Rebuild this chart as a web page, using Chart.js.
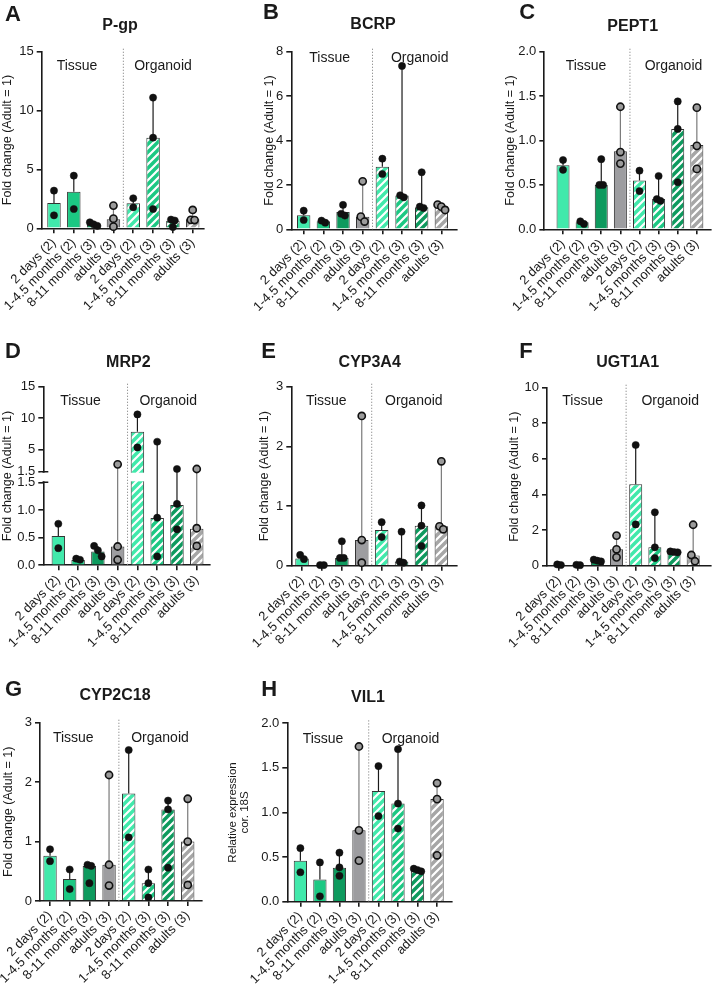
<!DOCTYPE html>
<html><head><meta charset="utf-8">
<script src="https://cdn.jsdelivr.net/npm/chart.js@4.4.1/dist/chart.umd.min.js"></script>
<style>
html,body{margin:0;padding:0;background:#fff;}
body{width:716px;height:988px;position:relative;overflow:hidden;}
canvas{position:absolute;}
</style></head><body>
<script>
// ---------------- DATA ----------------
const CATEGORIES = ['2 days (2)', '1-4.5 months (2)', '8-11 months (3)', 'adults (3)',
                    '2 days (2)', '1-4.5 months (3)', '8-11 months (3)', 'adults (3)'];
const GROUP_LABELS = ['Tissue', 'Organoid'];
const Y_TITLE = 'Fold change (Adult = 1)';
const Y_TITLE_VIL1 = ['Relative expression', 'cor. 18S'];

const PGP_BARS = [2.15, 3.1, 0.3, 0.76, 2.12, 7.7, 0.65, 0.76];
const PGP_POINTS = [[3.2,1.1],[4.47,1.64],[0.51,0.34,0.2],[1.93,0.82,0.14],[2.55,1.78],[11.1,7.7,1.64],[0.74,0.66,0.1],[1.56,0.72,0.7]];

const BCRP_BARS = [0.63, 0.36, 0.78, 0.56, 2.82, 1.52, 0.99, 1.04];
const BCRP_POINTS = [[0.84,0.42],[0.39,0.3],[1.1,0.7,0.62],[2.16,0.57,0.35],[3.18,2.49],[7.36,1.53,1.44],[2.57,1.02,0.96],[1.11,1.02,0.87]];

const PEPT1_BARS = [0.72, 0.08, 0.5, 0.88, 0.55, 0.34, 1.13, 0.95];
const PEPT1_POINTS = [[0.78,0.67],[0.09,0.06],[0.79,0.5,0.5],[1.38,0.87,0.74],[0.66,0.43],[0.6,0.34,0.32],[1.44,1.13,0.53],[1.37,0.94,0.68]];

const MRP2_BARS = [0.53, 0.096, 0.25, 0.34, 7.85, 0.855, 1.09, 0.66];
const MRP2_POINTS = [[0.75,0.31],[0.12,0.1],[0.35,0.27,0.16],[2.67,0.34,0.1],[10.6,5.35],[6.26,0.86,0.16],[1.93,1.11,0.65],[1.93,0.67,0.35]];
const MRP2_TICK_VALUES = [0, 0.5, 1, 1.5, 1.5, 5, 10, 15];
const MRP2_TICK_LABELS = ['0.0', '0.5', '1.0', '1.5', '1.5', '5', '10', '15'];

const CYP3A4_BARS = [0.12, 0.01, 0.13, 0.43, 0.6, 0.07, 0.67, 0.66];
const CYP3A4_POINTS = [[0.18,0.11],[0.01,0.01],[0.41,0.13,0.13],[2.51,0.43,0.05],[0.73,0.48],[0.57,0.07,0.05],[1.01,0.67,0.33],[1.75,0.66,0.61]];

const UGT1A1_BARS = [0.05, 0.04, 0.28, 0.92, 4.57, 1.03, 0.75, 0.58];
const UGT1A1_POINTS = [[0.07,0.04],[0.05,0.03],[0.34,0.28,0.24],[1.69,0.92,0.47],[6.78,2.32],[3.0,1.03,0.43],[0.8,0.77,0.75],[2.3,0.6,0.25]];

const CYP2C18_BARS = [0.76, 0.37, 0.59, 0.61, 1.81, 0.3, 1.54, 1.0];
const CYP2C18_POINTS = [[0.87,0.67],[0.53,0.2],[0.61,0.59,0.3],[2.12,0.61,0.26],[2.54,1.07],[0.53,0.3,0.06],[1.69,1.54,0.56],[1.72,1.0,0.27]];

const VIL1_BARS = [0.46, 0.25, 0.38, 0.8, 1.24, 1.1, 0.34, 1.15];
const VIL1_POINTS = [[0.6,0.33],[0.44,0.06],[0.55,0.385,0.29],[1.74,0.8,0.46],[1.52,0.96],[1.71,1.1,0.82],[0.37,0.355,0.34],[1.33,1.15,0.52]];

// ---------------- STYLE / LAYOUT ----------------
const FONT = '"Liberation Sans", Arial, Helvetica, sans-serif';
const TISSUE_COLORS = ['#41E9AB', '#1CC883', '#0E9A5E', '#9D9DA0'];
const ORGANOID_COLORS = ['#41E9AB', '#1CC883', '#0E9A5E', '#A6A6A6'];
const INK = '#1a1a1a';
const BRK_AT = 1.5, BRK_LOW = 0.4647, BRK_GAP = 0.0594;
const JIT = 0.19;

const PANELS = [
 {letter:'A', title:'P-gp', bars:PGP_BARS, points:PGP_POINTS, yMax:15, yStep:5, dec:0,
  box:[0,0,238,322], area:[41.7,51.7,204,228.3], xRange:[-0.62,7.57], yTitleX:7,
  letterPos:[5,20.5], titlePos:[120,29.5], groupY:70, groupX:[77,163]},
 {letter:'B', title:'BCRP', bars:BCRP_BARS, points:BCRP_POINTS, yMax:8, yStep:2, dec:0,
  box:[238,0,238,322], area:[291.3,51.7,456.3,229.3], xRange:[-0.63,7.76], yTitleX:269.7,
  letterPos:[263,18.5], titlePos:[373,29.3], groupY:61.7, groupX:[329.7,419.7]},
 {letter:'C', title:'PEPT1', bars:PEPT1_BARS, points:PEPT1_POINTS, yMax:2, yStep:0.5, dec:1,
  box:[476,0,240,322], area:[544.3,51.7,716,229.3], xRange:[-0.98,7.73], yTitleX:511,
  letterPos:[519.3,18.5], titlePos:[632.7,30.5], groupY:70, groupX:[586,673.5]},
 {letter:'D', title:'MRP2', bars:MRP2_BARS, points:MRP2_POINTS, yMax:15, broken:true,
  box:[0,330,238,330], area:[43.3,386.7,210,565.3], xRange:[-0.76,7.67], yTitleX:7.3,
  letterPos:[5,357.5], titlePos:[128.3,366.5], groupY:405, groupX:[80.5,168.2]},
 {letter:'E', title:'CYP3A4', bars:CYP3A4_BARS, points:CYP3A4_POINTS, yMax:3, yStep:1, dec:0,
  box:[238,330,238,330], area:[291.3,386.7,456.3,565.7], xRange:[-0.54,7.75], yTitleX:264.7,
  letterPos:[261.3,357.5], titlePos:[369.7,366.5], groupY:405, groupX:[326.3,413.8]},
 {letter:'F', title:'UGT1A1', bars:UGT1A1_BARS, points:UGT1A1_POINTS, yMax:10, yStep:2, dec:0,
  box:[476,330,240,330], area:[547,387.7,714.7,565.7], xRange:[-0.63,7.92], yTitleX:514.3,
  letterPos:[519.3,357.5], titlePos:[627.7,366.5], groupY:405, groupX:[582.7,670.2]},
 {letter:'G', title:'CYP2C18', bars:CYP2C18_BARS, points:CYP2C18_POINTS, yMax:3, yStep:1, dec:0,
  box:[0,660,238,328], area:[40,722.7,201.7,901], xRange:[-0.51,7.71], yTitleX:8.3,
  letterPos:[5,696], titlePos:[115,700], groupY:741.7, groupX:[73.3,160]},
 {letter:'H', title:'VIL1', bars:VIL1_BARS, points:VIL1_POINTS, yMax:2, yStep:0.5, dec:1,
  box:[224,660,252,328], area:[287.3,723.3,451.3,901.7], xRange:[-0.67,7.73], yTitleX:233,
  letterPos:[261.3,696], titlePos:[368,701.5], groupY:743.3, groupX:[323,410.5], vil:true}
];

// ---------------- BROKEN AXIS SCALE ----------------
function brokenFrac(v, max){
  if (v <= BRK_AT) return v / BRK_AT * BRK_LOW;
  return BRK_LOW + BRK_GAP + (v - BRK_AT) / (max - BRK_AT) * (1 - BRK_LOW - BRK_GAP);
}
class BrokenScale extends Chart.LinearScale {
  determineDataLimits(){ this.min = 0; this.max = this.options.max; }
  buildTicks(){ return MRP2_TICK_VALUES.map((v,i)=>({value:v, upper: i===4})); }
  getPixelForValue(v){ return this.getPixelForDecimal(brokenFrac(v, this.max)); }
  getPixelForTick(i){
    const t = this.ticks[i]; if (!t) return null;
    if (t.upper) return this.getPixelForDecimal(BRK_LOW + BRK_GAP);
    return this.getPixelForValue(t.value);
  }
  getValueForPixel(p){
    const d = this.getDecimalForPixel(p);
    if (d <= BRK_LOW) return d / BRK_LOW * BRK_AT;
    return BRK_AT + (d - BRK_LOW - BRK_GAP) / (1 - BRK_LOW - BRK_GAP) * (this.max - BRK_AT);
  }
}
BrokenScale.id = 'brokenLinear';
BrokenScale.defaults = Chart.LinearScale.defaults;
Chart.register(BrokenScale);

function fracOf(p, v){ return p.broken ? brokenFrac(v, p.yMax) : v / p.yMax; }

function jitter(p){
  const H = p.area[3] - p.area[1];
  const out = [];
  p.points.forEach((vals, i) => {
    const s = vals.map(v => ({v, px: fracOf(p, v) * H})).sort((a,b) => b.v - a.v);
    const clusters = []; let cur = [s[0]];
    for (let k = 1; k < s.length; k++){
      if (cur[cur.length-1].px - s[k].px < 6.5) cur.push(s[k]); else { clusters.push(cur); cur = [s[k]]; }
    }
    clusters.push(cur);
    clusters.forEach(c => c.forEach((pt, k) => out.push({x: i + (k - (c.length-1)/2) * JIT, y: pt.v, cat: i})));
  });
  return out;
}

function makeHatch(ctx, color){
  const n = 8;
  const c = document.createElement('canvas'); c.width = n; c.height = n;
  const g = c.getContext('2d');
  g.fillStyle = color; g.fillRect(0,0,n,n);
  g.strokeStyle = '#ffffff'; g.lineWidth = 2.2;
  g.beginPath();
  g.moveTo(-1, n+1); g.lineTo(n+1, -1);
  g.moveTo(-2, 2); g.lineTo(2, -2);
  g.moveTo(n-2, n+2); g.lineTo(n+2, n-2);
  g.stroke();
  return ctx.createPattern(c, 'repeat');
}

function buildPanel(p){
  const [bx, by, bw, bh] = p.box;
  const [L, T, R, B] = p.area;
  const cv = document.createElement('canvas');
  cv.width = bw; cv.height = bh;
  cv.style.left = bx + 'px'; cv.style.top = by + 'px';
  cv.style.width = bw + 'px'; cv.style.height = bh + 'px';
  document.body.appendChild(cv);
  const ctx = cv.getContext('2d');
  const fills = TISSUE_COLORS.concat(ORGANOID_COLORS.map(c => makeHatch(ctx, c)));
  const yw = L - bx, xh = by + bh - B;
  const lh = p.vil ? 12 : 15;
  const titlePad = Math.max(0, p.yTitleX - bx - lh / 2);

  const deco = {
    id: 'deco',
    afterDatasetDraw(chart, args){
      if (args.index !== 0) return;
      const c = chart.ctx, x = chart.scales.x, y = chart.scales.y, a = chart.chartArea;
      if (p.broken){
        const y1 = y.getPixelForTick(4), y2 = y.getPixelForTick(3);
        c.save(); c.fillStyle = '#ffffff';
        c.fillRect(a.left - 3, y1 + 1, a.right - a.left + 3, y2 - y1 - 2);
        c.strokeStyle = INK; c.lineWidth = 1.6;
        c.beginPath();
        c.moveTo(a.left - 1, y1); c.lineTo(a.left + 5, y1);
        c.moveTo(a.left - 1, y2); c.lineTo(a.left + 5, y2);
        c.stroke(); c.restore();
      }
      // dotted separator between tissue and organoid groups
      const xs = (x.getPixelForValue(3) + x.getPixelForValue(4)) / 2;
      c.save(); c.strokeStyle = '#8a8a8a'; c.lineWidth = 1; c.setLineDash([1.2, 1.8]);
      c.beginPath(); c.moveTo(xs, a.top - 3); c.lineTo(xs, a.bottom); c.stroke(); c.restore();
      // error bars (bar value up to highest point)
      c.save(); c.lineWidth = 1.2;
      p.bars.forEach((v, i) => {
        const mx = Math.max.apply(null, p.points[i]);
        if (mx <= v) return;
        const px = x.getPixelForValue(i);
        c.strokeStyle = (i % 4 === 3) ? '#7a7a7a' : INK;
        c.beginPath(); c.moveTo(px, y.getPixelForValue(v)); c.lineTo(px, y.getPixelForValue(mx)); c.stroke();
      });
      c.restore();
    },
    afterDraw(chart){
      const c = chart.ctx;
      c.save(); c.fillStyle = INK; c.textBaseline = 'alphabetic';
      c.font = 'bold 22px ' + FONT; c.textAlign = 'left';
      c.fillText(p.letter, p.letterPos[0] - bx, p.letterPos[1] - by);
      c.font = 'bold 16px ' + FONT; c.textAlign = 'center';
      c.fillText(p.title, p.titlePos[0] - bx, p.titlePos[1] - by);
      c.font = '14px ' + FONT;
      c.fillText(GROUP_LABELS[0], p.groupX[0] - bx, p.groupY - by);
      c.fillText(GROUP_LABELS[1], p.groupX[1] - bx, p.groupY - by);
      c.restore();
    }
  };

  const yScale = p.broken ? {
      type: 'brokenLinear', min: 0, max: p.yMax,
      ticks: {autoSkip: false, color: INK, font: {family: FONT, size: 13}, padding: 3,
              callback: (v, i) => MRP2_TICK_LABELS[i]}
    } : {
      type: 'linear', min: 0, max: p.yMax, bounds: 'data',
      ticks: {stepSize: p.yStep, autoSkip: false, color: INK, font: {family: FONT, size: 13}, padding: 3,
              callback: v => Number(v).toFixed(p.dec)}
    };
  Object.assign(yScale, {
    grid: {display: true, drawOnChartArea: false, drawTicks: true, tickLength: 5, color: INK, lineWidth: 1.6},
    border: {display: true, color: INK, width: 1.6},
    title: {display: true, text: p.vil ? Y_TITLE_VIL1 : Y_TITLE, color: INK, padding: {top: titlePad, bottom: 0},
            font: p.vil ? {family: FONT, size: 11.5, lineHeight: '12px'} : {family: FONT, size: 12.5, lineHeight: '15px'}},
    afterFit: s => { s.width = yw; }
  });

  new Chart(ctx, {
    type: 'bar',
    data: {
      datasets: [
        {type: 'bar', order: 1, data: p.bars.map((v, i) => ({x: i, y: v})),
         backgroundColor: fills, borderColor: '#333333', borderWidth: 1,
         barPercentage: 0.68, categoryPercentage: 1},
        {type: 'scatter', order: 0, clip: false, data: jitter(p),
         pointRadius: 3.6, pointHoverRadius: 3.6,
         pointBackgroundColor: c => (c.raw && c.raw.cat % 4 === 3) ? '#9b9b9b' : '#111111',
         pointBorderColor: '#111111',
         pointBorderWidth: c => (c.raw && c.raw.cat % 4 === 3) ? 1.6 : 0.5}
      ]
    },
    options: {
      responsive: false, animation: false, devicePixelRatio: 1,
      layout: {padding: {left: 0, top: T - by, right: bx + bw - R, bottom: 0}},
      plugins: {legend: {display: false}, tooltip: {enabled: false}, title: {display: false}},
      scales: {
        x: {type: 'linear', min: p.xRange[0], max: p.xRange[1], bounds: 'data', offset: false,
            afterBuildTicks: s => { s.ticks = CATEGORIES.map((c, i) => ({value: i})); },
            ticks: {autoSkip: false, minRotation: 45, maxRotation: 45, color: INK, padding: 2,
                    font: {family: FONT, size: 13}, callback: v => CATEGORIES[Math.round(v)]},
            grid: {display: true, drawOnChartArea: false, drawTicks: true, tickLength: 5, color: INK, lineWidth: 1.6, offset: false},
            border: {display: true, color: INK, width: 1.6},
            afterFit: s => { s.height = xh; }},
        y: yScale
      }
    },
    plugins: [deco]
  });
}

PANELS.forEach(buildPanel);
</script>
</body></html>
